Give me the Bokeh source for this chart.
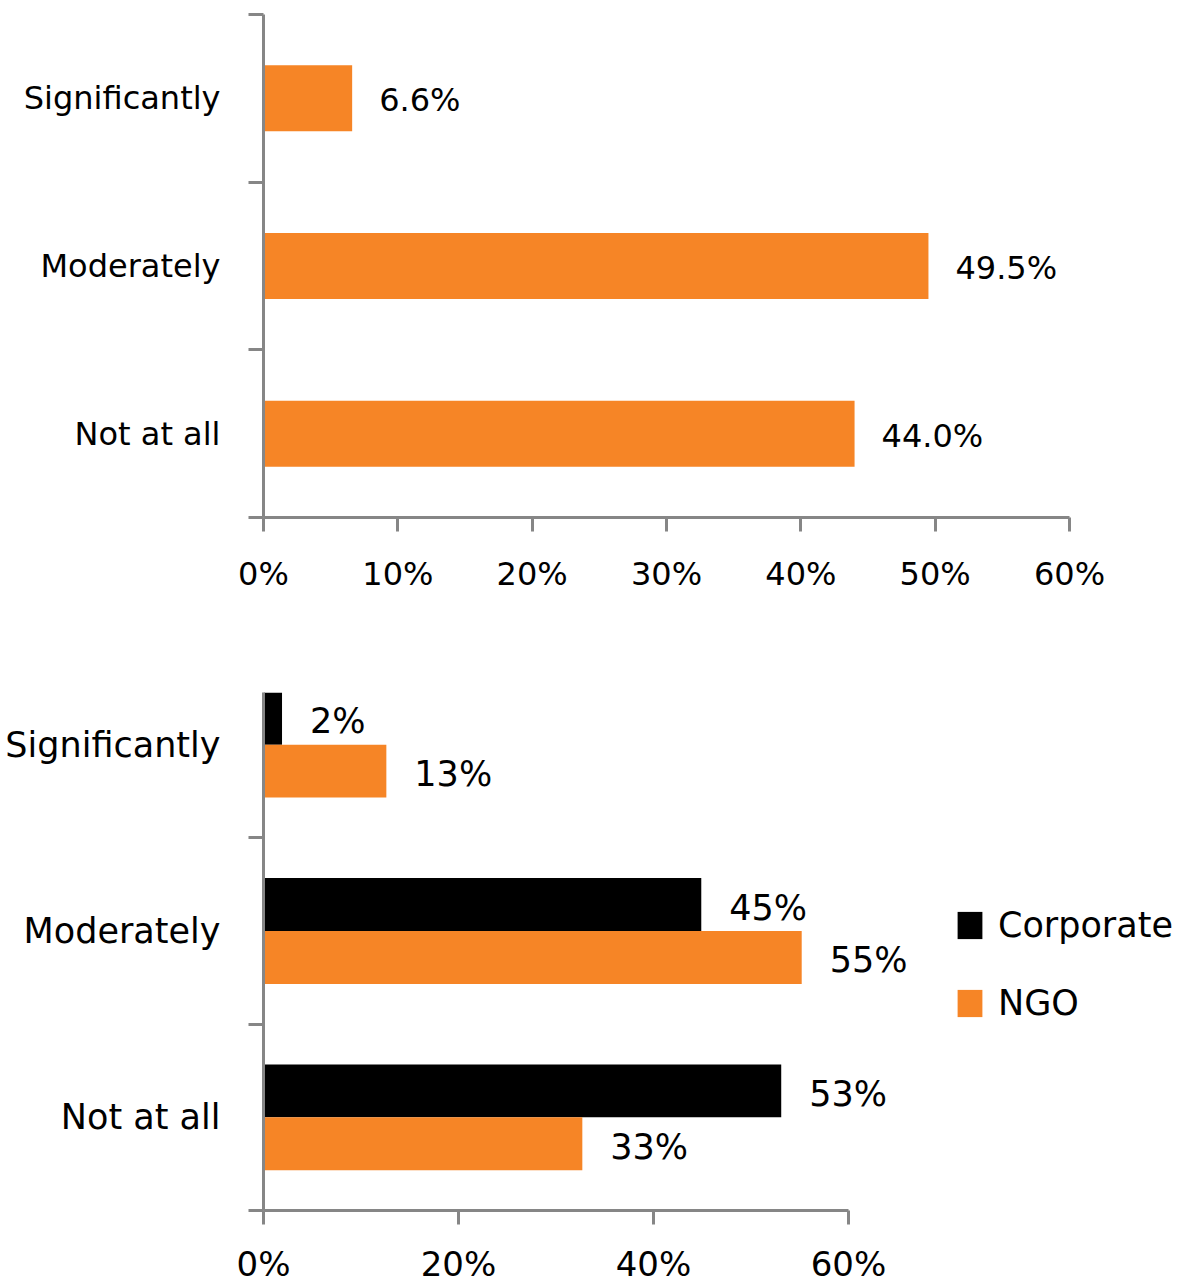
from bokeh.plotting import figure
from bokeh.layouts import column
from bokeh.models import (Range1d, FixedTicker, PrintfTickFormatter, ColumnDataSource,
                          Legend, LegendItem, GlobalInlineStyleSheet)
from bokeh.embed import file_html
from bokeh.resources import INLINE
from bokeh.core.properties import value

# ---------------- data ----------------
categories = ["Not at all", "Moderately", "Significantly"]
overall_values = [44.0, 49.5, 6.6]
corporate_values = [53.1, 44.9, 1.9]
ngo_values = [32.7, 55.2, 12.6]
top_ticks = [0, 10, 20, 30, 40, 50, 60]
bottom_ticks = [0, 20, 40, 60]
series_names = ["Corporate", "NGO"]

ORANGE = "#F68526"
BLACK = "#000000"
AXIS = "#868686"
FONT = "DejaVu Sans"
FS_TOP = "32px"
FS_BOT = "35px"
FS_BOT_X = "34px"

FRAME_LEFT = 263
FRAME_W = 915
# pixel length of the drawn axis (0% -> last tick) in each chart
TOP_AXIS_PX = 806
BOT_AXIS_PX = 585

positions = list(range(len(categories)))
overrides = {float(p): c for p, c in zip(positions, categories)}


def style_axes(p, xticks, fs, fsx, xstand):
    p.xgrid.visible = False
    p.ygrid.visible = False
    p.outline_line_color = None
    ya = p.yaxis[0]
    ya.ticker = FixedTicker(ticks=positions,
                            minor_ticks=[q - 0.5 for q in positions] + [positions[-1] + 0.5])
    ya.major_label_overrides = overrides
    ya.major_tick_out = 0
    ya.major_tick_in = 0
    ya.minor_tick_out = 15
    ya.minor_tick_in = 0
    ya.minor_tick_line_color = AXIS
    ya.minor_tick_line_width = 3
    ya.axis_line_color = AXIS
    ya.axis_line_width = 3
    ya.major_label_standoff = 28
    ya.major_label_text_font = FONT
    ya.major_label_text_font_size = fs
    ya.major_label_text_color = "black"
    xa = p.xaxis[0]
    xa.ticker = FixedTicker(ticks=xticks, minor_ticks=[])
    xa.bounds = (xticks[0], xticks[-1])
    xa.formatter = PrintfTickFormatter(format="%d%%")
    xa.major_tick_out = 14
    xa.major_tick_in = 0
    xa.major_tick_line_color = AXIS
    xa.major_tick_line_width = 3
    xa.axis_line_color = AXIS
    xa.axis_line_width = 3
    xa.major_label_standoff = xstand
    xa.major_label_text_font = FONT
    xa.major_label_text_font_size = fsx
    xa.major_label_text_color = "black"


# ---------------- top chart ----------------
top_end = top_ticks[-1] * FRAME_W / TOP_AXIS_PX
p1 = figure(frame_width=FRAME_W, frame_height=503, output_backend="svg", toolbar_location=None,
            x_range=Range1d(0, top_end), y_range=Range1d(-0.5, 2.5),
            min_border_left=FRAME_LEFT, min_border_right=0, min_border_top=14, min_border_bottom=123)
src1 = ColumnDataSource(dict(y=positions, v=overall_values,
                             lbl=[f"{v:.1f}%" for v in overall_values]))
p1.hbar(y="y", left=0, right="v", height=0.394, source=src1, fill_color=ORANGE, line_color=None)
p1.text(x="v", y="y", text="lbl", source=src1, x_offset=27, y_offset=2,
        text_align="left", text_baseline="middle",
        text_font=value(FONT), text_font_size=FS_TOP, text_color="black")
style_axes(p1, top_ticks, FS_TOP, FS_TOP, 23)

# ---------------- bottom chart ----------------
bh = 0.284
bot_end = bottom_ticks[-1] * FRAME_W / BOT_AXIS_PX
p2 = figure(frame_width=FRAME_W, frame_height=518, output_backend="svg", toolbar_location=None,
            x_range=Range1d(0, bot_end), y_range=Range1d(-0.5, 2.28),
            min_border_left=FRAME_LEFT, min_border_right=0, min_border_top=52, min_border_bottom=70)
src_c = ColumnDataSource(dict(y=[q + bh / 2 for q in positions], v=corporate_values,
                              lbl=[f"{v:.0f}%" for v in corporate_values]))
src_n = ColumnDataSource(dict(y=[q - bh / 2 for q in positions], v=ngo_values,
                              lbl=[f"{v:.0f}%" for v in ngo_values]))
r_c = p2.hbar(y="y", left=0, right="v", height=bh, source=src_c, fill_color=BLACK, line_color=None)
r_n = p2.hbar(y="y", left=0, right="v", height=bh, source=src_n, fill_color=ORANGE, line_color=None)
for s in (src_c, src_n):
    p2.text(x="v", y="y", text="lbl", source=s, x_offset=28, y_offset=3,
            text_align="left", text_baseline="middle",
            text_font=value(FONT), text_font_size=FS_BOT, text_color="black")
style_axes(p2, bottom_ticks, FS_BOT, FS_BOT_X, 19)

legend = Legend(items=[LegendItem(label=series_names[0], renderers=[r_c]),
                       LegendItem(label=series_names[1], renderers=[r_n])],
                location=(691, 187), orientation="vertical",
                glyph_width=31, glyph_height=34, label_standoff=13, spacing=38,
                padding=0, margin=0, border_line_color=None, background_fill_alpha=0,
                label_text_font=FONT, label_text_font_size=FS_BOT, label_text_color="black")
p2.add_layout(legend, "center")

layout = column(p1, p2, spacing=0,
                stylesheets=[GlobalInlineStyleSheet(css="html, body { overflow: hidden; }")])

open("out.html", "w").write(file_html(layout, INLINE))
